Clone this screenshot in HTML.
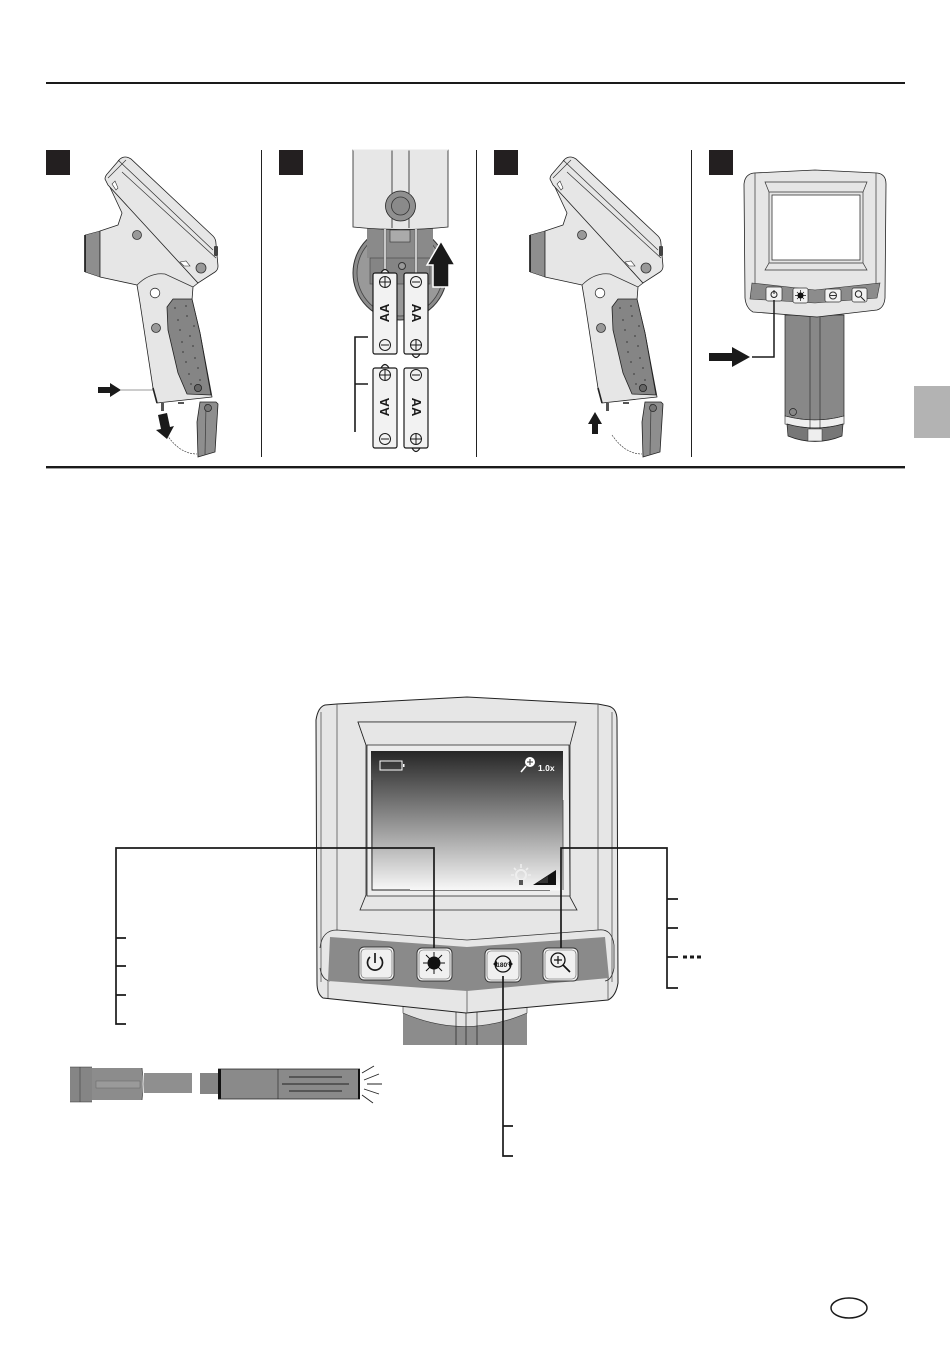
<!DOCTYPE html>
<html><head><meta charset="utf-8"><style>
html,body{margin:0;padding:0;background:#fff}
svg{display:block;position:absolute;left:0;top:0}
text{font-family:"Liberation Sans",sans-serif}
</style></head><body>
<svg width="950" height="1345" viewBox="0 0 950 1345" xmlns="http://www.w3.org/2000/svg">
<defs>
<linearGradient id="g" x1="0" y1="0" x2="0" y2="1"><stop offset="0" stop-color="#262626"/><stop offset="1" stop-color="#f8f8f8"/></linearGradient>
<g id="gun">
  <path d="M85 235L100 231V277L85 272Z" fill="#8e8e8e" stroke="#222" stroke-width=".5"/>
  <path d="M85 235V272" stroke="#111" stroke-width="1.600"/>
  <path d="M100 231L118 225L122 213L108 183L198 283L193 287L192 300L200 333L212 397L157 403L153 388L140 303L137 285L100 277Z" fill="#e6e6e6" stroke="#222" stroke-width=".8" stroke-linejoin="round"/>
  <path d="M105 179Q105 176 108 173L120 159Q125 155 131 159L213 236Q216 239 216 244L218 266Q218 270 215 272L198 283L108 185Z" fill="#e6e6e6" stroke="#222" stroke-width=".8"/>
  <path d="M118 160L213 250M108 178L126 160M122 172L216 258M137 285Q150 272 165 274L193 287" fill="none" stroke="#333" stroke-width=".7"/>
  <path d="M115 181L118 188L116 190L112 184Z" fill="#fff" stroke="#333" stroke-width=".6"/>
  <path d="M180 262L186 261L190 266L184 266Z" fill="#fff" stroke="#333" stroke-width=".6"/>
  <rect x="214" y="246" width="4" height="10" rx="1" fill="#444"/>
  <circle cx="137" cy="235" r="4.500" fill="#999" stroke="#333" stroke-width=".8"/>
  <circle cx="201" cy="268" r="5" fill="#999" stroke="#333" stroke-width=".8"/>
  <circle cx="155" cy="293" r="4.800" fill="#fff" stroke="#333" stroke-width=".8"/>
  <circle cx="156" cy="328" r="4.500" fill="#999" stroke="#333" stroke-width=".8"/>
  <path d="M167 307L173 299H192L200 333L211 395L187 394L178 373L168 330Z" fill="#858585" stroke="#222" stroke-width=".8" stroke-linejoin="round"/>
  <g fill="#555"><circle cx="175" cy="308" r="1"/><circle cx="186" cy="306" r="1"/><circle cx="178" cy="320" r="1"/><circle cx="187" cy="316" r="1"/><circle cx="194" cy="326" r="1"/><circle cx="180" cy="330" r="1"/><circle cx="190" cy="336" r="1"/><circle cx="182" cy="342" r="1"/><circle cx="193" cy="346" r="1"/><circle cx="183" cy="352" r="1"/><circle cx="195" cy="358" r="1"/><circle cx="186" cy="362" r="1"/><circle cx="198" cy="368" r="1"/><circle cx="189" cy="374" r="1"/><circle cx="200" cy="380" r="1"/><circle cx="191" cy="384" r="1"/></g>
  <circle cx="198" cy="388" r="3.600" fill="#666" stroke="#222" stroke-width=".8"/>
  <path d="M153 388L157 403" stroke="#222" stroke-width="1.600"/>
  <rect x="161" y="403" width="3" height="8" fill="#555"/><rect x="178" y="402" width="6" height="2" fill="#555"/>
  <path d="M200 402L216 402L218 404L215 452L198 457L197 422Z" fill="#8e8e8e" stroke="#222" stroke-width=".8"/>
  <path d="M206 404L205 455" stroke="#444" stroke-width=".8"/>
  <circle cx="208" cy="408" r="3.500" fill="#777" stroke="#222" stroke-width=".7"/>
  <path d="M167 435Q180 454 197 454" fill="none" stroke="#333" stroke-width=".6" stroke-dasharray="2 1"/>
</g>
</defs>

<rect x="46" y="82" width="859" height="2" fill="#1a1a1a"/>
<rect x="46" y="466" width="859" height="2.400" fill="#1a1a1a"/>
<rect x="261" y="150" width="1" height="307" fill="#222"/>
<rect x="476" y="150" width="1" height="307" fill="#222"/>
<rect x="691" y="150" width="1" height="307" fill="#222"/>
<rect x="46" y="150" width="24" height="25" fill="#231f20"/>
<rect x="279" y="150" width="24" height="25" fill="#231f20"/>
<rect x="494" y="150" width="24" height="25" fill="#231f20"/>
<rect x="709" y="150" width="24" height="25" fill="#231f20"/>

<!-- panel 1 -->
<use href="#gun"/>
<path d="M98 387H110V383L121 390L110 397V393H98Z" fill="#1a1a1a"/>
<path d="M121 390H153" stroke="#333" stroke-width=".6"/>
<path d="M158 415L167 413L170 427L174 426L167 439L156 430L161 429Z" fill="#1a1a1a"/>

<!-- panel 3 -->
<g transform="translate(445,0)"><use href="#gun"/></g>
<path d="M595 412L602 424H598V434H592V424H588Z" fill="#1a1a1a"/>

<!-- panel 2 -->
<circle cx="400" cy="273" r="47" fill="#8c8c8c" stroke="#333"/>
<circle cx="400" cy="273" r="43" fill="#999" stroke="#444" stroke-width=".8"/>
<rect x="367" y="228" width="66" height="30" fill="#8a8a8a"/>
<rect x="370" y="258" width="60" height="26" fill="#858585" stroke="#444" stroke-width=".6"/>
<rect x="390" y="230" width="20" height="12" fill="#aaa" stroke="#333" stroke-width=".6"/>
<path d="M353 150V227Q400 232 448 227V150Z" fill="#e7e7e7" stroke="#222" stroke-width=".8"/>
<path d="M392 150V228M409 150V228" stroke="#222" stroke-width=".8"/>
<path d="M353 150H448" stroke="#e7e7e7"/>
<circle cx="400.500" cy="206" r="15" fill="#909090" stroke="#222" stroke-width=".8"/>
<circle cx="400.500" cy="206" r="9" fill="#8a8a8a" stroke="#333" stroke-width=".8"/>
<circle cx="402" cy="266" r="3.500" fill="#999" stroke="#333"/>
<path d="M385 229V270M416 229V273" stroke="#fff" stroke-width="2.400"/>
<path d="M384 229V270M386 229V270M415 229V273M417 229V273" stroke="#222" stroke-width=".5"/>
<g fill="#f2f2f2" stroke="#1a1a1a" stroke-width="1.200">
  <path d="M381 273Q385 266 389 273Z"/>
  <path d="M412 354Q416 361 420 354Z"/>
  <path d="M381 368Q385 361 389 368Z"/>
  <path d="M412 448Q416 455 420 448Z"/>
  <rect x="373" y="273" width="24" height="81" rx="2"/>
  <rect x="404" y="273" width="24" height="81" rx="2"/>
  <rect x="373" y="368" width="24" height="80" rx="2"/>
  <rect x="404" y="368" width="24" height="80" rx="2"/>
</g>
<g fill="none" stroke="#1a1a1a" stroke-width="1">
  <circle cx="385" cy="282" r="5.500"/><path d="M379.500 282H390.500M385 276.500V287.500"/>
  <circle cx="385" cy="345" r="5.500"/><path d="M381 345H389"/>
  <circle cx="416" cy="282" r="5.500"/><path d="M412 282H420"/>
  <circle cx="416" cy="345" r="5.500"/><path d="M410.500 345H421.500M416 339.500V350.500"/>
  <circle cx="385" cy="375" r="5.500"/><path d="M379.500 375H390.500M385 369.500V380.500"/>
  <circle cx="385" cy="439" r="5.500"/><path d="M381 439H389"/>
  <circle cx="416" cy="375" r="5.500"/><path d="M412 375H420"/>
  <circle cx="416" cy="439" r="5.500"/><path d="M410.500 439H421.500M416 433.500V444.500"/>
</g>
<g font-size="13" font-weight="bold" fill="#1a1a1a" text-anchor="middle">
  <text transform="translate(389,313) rotate(-90)">AA</text>
  <text transform="translate(412,313) rotate(90)">AA</text>
  <text transform="translate(389,407) rotate(-90)">AA</text>
  <text transform="translate(412,407) rotate(90)">AA</text>
</g>
<path d="M441 241L455 265H449V287H433V265H427Z" fill="#1a1a1a" stroke="#fff" stroke-width="1.500"/>
<path d="M368 337H355V432M355 384H368" fill="none" stroke="#1a1a1a" stroke-width="1.600"/>

<!-- panel 4 -->
<path d="M785 315H844V416Q815 424 785 416Z" fill="#888" stroke="#222" stroke-width=".7"/>
<path d="M785 416Q815 424 844 416V424Q815 432 785 424Z" fill="#eee" stroke="#222" stroke-width=".6"/>
<path d="M787 424Q815 432 843 424L842 436Q815 447 788 436Z" fill="#777" stroke="#222" stroke-width=".7"/>
<rect x="808" y="429" width="14" height="12" fill="#eee" stroke="#333" stroke-width=".5"/>
<path d="M810 317V429M820 317V429" stroke="#222" stroke-width=".6"/>
<circle cx="793" cy="412" r="3.500" fill="none" stroke="#222" stroke-width=".7"/>
<path d="M744 184Q745 174 754 173L815 170L877 173Q886 174 886 184L885 298Q884 308 877 310L817 317L753 312Q746 308 745 298Z" fill="#e6e6e6" stroke="#222" stroke-width=".8"/>
<path d="M755 173V288M876 173V288M765 182H867L863 192H769ZM769 192V263M863 192V263M769 263H863L867 270H765Z" fill="none" stroke="#333" stroke-width=".7"/>
<path d="M752 283L815 290L880 283L877 298L815 303L750 299Z" fill="#8c8c8c" stroke="#333" stroke-width=".6"/>
<rect x="772" y="195" width="88" height="65" fill="#fff" stroke="#333" stroke-width=".8"/>
<g fill="#f2f2f2" stroke="#333" stroke-width=".7">
  <rect x="766" y="287" width="16" height="14" rx="2"/>
  <rect x="793" y="288" width="15" height="15" rx="2"/>
  <rect x="825" y="289" width="16" height="13" rx="2"/>
  <rect x="852" y="288" width="15" height="14" rx="2"/>
</g>
<circle cx="774" cy="294.500" r="3" fill="none" stroke="#222"/><path d="M774 290V294" stroke="#222"/>
<circle cx="800.500" cy="295.500" r="3" fill="#111"/><path d="M800.500 290V301M795 295.500H806M797 292L804 299M804 292L797 299" stroke="#111" stroke-width=".7"/>
<circle cx="833" cy="295.500" r="3.500" fill="none" stroke="#333"/><path d="M830 295.500H836" stroke="#333"/>
<circle cx="858.500" cy="294" r="3.200" fill="none" stroke="#222"/><path d="M861 297L865 301" stroke="#222"/>
<path d="M709 353H732V347L750 357L732 367V361H709Z" fill="#1a1a1a"/>
<path d="M774 300V357H752" fill="none" stroke="#1a1a1a" stroke-width="1.500"/>

<rect x="914" y="386" width="36" height="52" fill="#b3b3b3"/>

<!-- big device -->
<rect x="403" y="1005" width="124" height="40" fill="#8c8c8c"/>
<path d="M403 1013Q465 1040 527 1013V1005H403Z" fill="#e4e4e4" stroke="#333" stroke-width=".6"/>
<path d="M456 1012V1045M466 1012V1045M477 1012V1045" stroke="#222" stroke-width=".7"/>
<path d="M316 720Q318 707 325 705L337 704L467 697L598 704L608 706Q617 708 617 720L618 983Q616 996 608 1000L466 1013L323 998Q317 994 317 983Z" fill="#e6e6e6" stroke="#222" stroke-width="1"/>
<path d="M321 712V982M337 704V930M598 704V930M612 712V982M328 981V998M608 978V1000M467 990V1013" fill="none" stroke="#555" stroke-width=".8"/>
<path d="M320 948Q322 930 337 930L467 940L598 930Q612 928 614 945V968Q612 980 605 981M330 981Q322 980 320 968" fill="none" stroke="#333" stroke-width=".8"/>
<path d="M358 722H576L569 745H366Z" fill="#e6e6e6" stroke="#222" stroke-width=".8"/>
<path d="M358 722L366 745V895L360 910H577L570 897V745L576 722Z" fill="#e6e6e6" stroke="#222" stroke-width=".8"/>
<path d="M367 745H569L570 896H367Z" fill="#ececec" stroke="#222" stroke-width=".8"/>
<rect x="371" y="751" width="192" height="139.500" fill="url(#g)"/>
<path d="M372 780V890H410" fill="none" stroke="#222" stroke-width=".9"/>
<path d="M410 890.500H550" stroke="#555" stroke-width=".7"/>
<path d="M563 800V890" stroke="#444" stroke-width=".8"/>
<path d="M330 937L467 947L605 937L609 978L467 991L328 981Z" fill="#8a8a8a"/>
<path d="M380 761H402V770H380Z" fill="none" stroke="#fff" stroke-width="1"/><rect x="403" y="764" width="1.500" height="3" fill="#fff"/>
<circle cx="530" cy="762" r="5" fill="#fff"/><path d="M526 766L521 772" stroke="#fff" stroke-width="1.600"/>
<path d="M527 762H533M530 759V765" stroke="#333" stroke-width="1"/>
<text x="538" y="771" font-size="8.500" font-weight="bold" fill="#fff">1.0x</text>
<path d="M533 885L556 870V885Z" fill="#111"/>
<path d="M537 883L548 876V883Z" fill="#fff" opacity=".15"/>
<circle cx="521" cy="875" r="5" fill="none" stroke="#eee" stroke-width="2"/>
<path d="M521 864V868M511 875H514M528 875H531M514 868L516 870M528 868L526 870M514 882L516 880" stroke="#eee" stroke-width="1.600"/>
<path d="M519 880H523V885H519Z" fill="#555"/>

<g fill="#f0f0f0" stroke="#333" stroke-width=".9">
  <rect x="359" y="947" width="35" height="33" rx="5"/>
  <rect x="417" y="948" width="35" height="33" rx="5"/>
  <rect x="485" y="949" width="36" height="33" rx="5"/>
  <rect x="543" y="948" width="35" height="33" rx="5"/>
</g>
<g fill="none" stroke="#555" stroke-width=".6">
  <rect x="361" y="949" width="31" height="29" rx="4"/>
  <rect x="419" y="950" width="31" height="29" rx="4"/>
  <rect x="487" y="951" width="32" height="29" rx="4"/>
  <rect x="545" y="950" width="31" height="29" rx="4"/>
</g>
<path d="M370 957A7.500 7.500 0 1 0 380 957" fill="none" stroke="#1a1a1a" stroke-width="1.700"/>
<path d="M375 953V963" stroke="#1a1a1a" stroke-width="1.700"/>
<circle cx="434" cy="963" r="6.500" fill="#111"/>
<path d="M434 952V974M423 963H445M426 955L442 971M442 955L426 971" stroke="#111" stroke-width="1"/>
<circle cx="503" cy="964" r="8" fill="none" stroke="#111" stroke-width="1.300"/>
<text x="503" y="967" font-size="6.500" font-weight="bold" fill="#111" text-anchor="middle">180°</text>
<path d="M493 964L497 961V967ZM513 964L509 961V967Z" fill="#111"/>
<circle cx="558" cy="960" r="7" fill="none" stroke="#111" stroke-width="1.300"/>
<path d="M563 965L570 972" stroke="#111" stroke-width="1.700"/>
<path d="M554 960H562M558 956V964" stroke="#111" stroke-width="1.200"/>

<!-- callouts -->
<g fill="none" stroke="#1a1a1a" stroke-width="1.700">
  <path d="M434 948V848H116V1024H126M116 938H126M116 966H126M116 995H126"/>
  <path d="M561 948V848H667V988H678M667 899H678M667 928H678M667 957H678"/>
  <path d="M503 976V1156H513M503 1126H513"/>
</g>
<path d="M683 957H702" stroke="#1a1a1a" stroke-width="3" stroke-dasharray="4 3"/>

<!-- probe -->
<rect x="70" y="1067" width="22" height="35" fill="#858585"/>
<path d="M70 1067H92M70 1102H92M80 1067V1102" stroke="#333" stroke-width=".5"/>
<rect x="92" y="1068" width="50" height="32" fill="#8c8c8c"/>
<rect x="96" y="1081" width="44" height="7" fill="#9a9a9a" stroke="#666" stroke-width=".5"/>
<path d="M142 1068Q144 1084 142 1100" stroke="#444" fill="none" stroke-width=".8"/>
<rect x="144" y="1073" width="48" height="20" fill="#8f8f8f"/>
<rect x="200" y="1073" width="18" height="21" fill="#858585"/>
<rect x="218" y="1069" width="142" height="30" fill="#8a8a8a"/>
<rect x="218" y="1069" width="3" height="30" fill="#111"/>
<path d="M218 1069H360M218 1099H360" stroke="#222" stroke-width=".8"/>
<path d="M278 1069V1099" stroke="#222" stroke-width=".6"/>
<path d="M289 1077H342M282 1084H349M289 1091H342" stroke="#222" stroke-width="1"/>
<rect x="358" y="1069" width="2" height="30" fill="#111"/>
<path d="M362 1073L374 1066M364 1080L379 1074M367 1084H382M364 1089L379 1094M362 1095L373 1103" stroke="#222" stroke-width=".9"/>

<ellipse cx="849" cy="1308" rx="18" ry="10" fill="none" stroke="#1a1a1a" stroke-width="1.500"/>
</svg>
</body></html>
